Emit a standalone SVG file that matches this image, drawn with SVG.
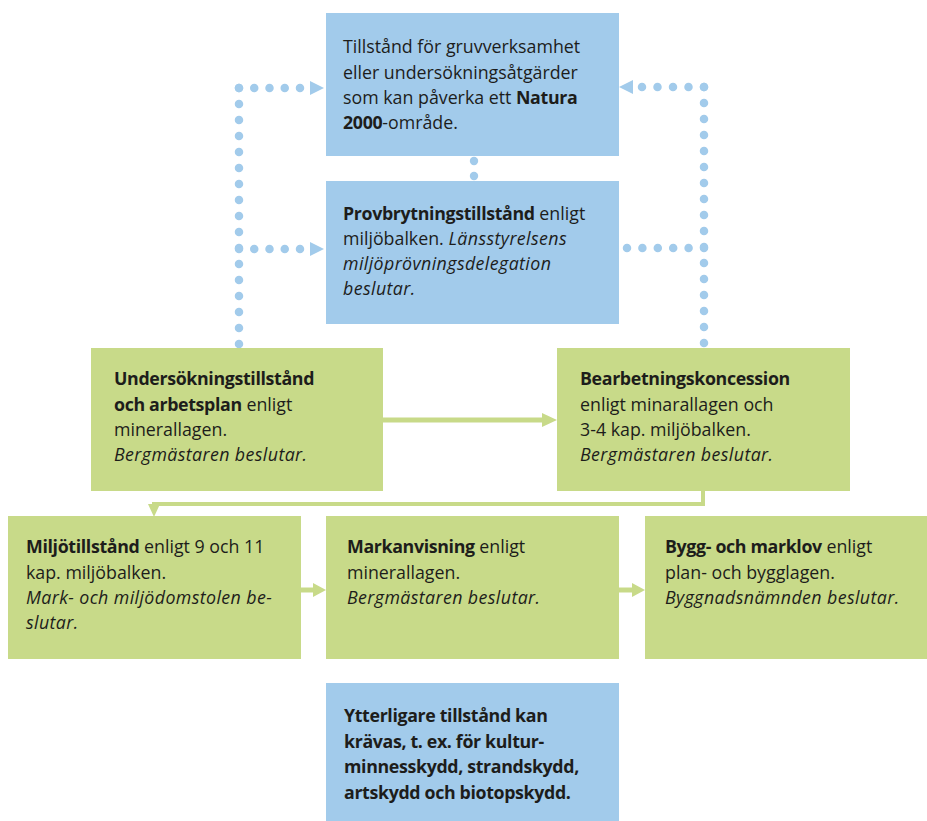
<svg xmlns="http://www.w3.org/2000/svg" width="927" height="821" viewBox="0 0 927 821">
  <style>
    .blue { fill: #a2cbeb; }
    .green { fill: #c8da89; }
    text { font-family: "Open Sans", "Liberation Sans", sans-serif; font-size: 17.8px; fill: #1d1d1b; }
    .b { font-weight: 700; letter-spacing: -0.35px; }
    .i { font-style: italic; letter-spacing: 0.4px; }
    .dots { fill: none; stroke: #a2cbeb; stroke-width: 8.5; stroke-linecap: round; }
    .dh { stroke-dasharray: 0 15.25; }
    .dv { stroke-dasharray: 0 16; }
    .dot { fill: #a2cbeb; }
    .arrow-b { fill: #a2cbeb; }
    .flow { fill: none; stroke: #c8da89; stroke-width: 5; }
    .arrow-g { fill: #c8da89; }
  </style>

  <g id="connectors">
    <!-- dotted links from the left column to the blue boxes -->
    <line class="dots dv" x1="239" y1="88" x2="239" y2="344.5"/>
    <line class="dots dh" x1="239" y1="88" x2="300.5" y2="88"/>
    <polygon class="arrow-b" points="310,81 324,88 310,95"/>
    <line class="dots dh" x1="239" y1="249" x2="300.5" y2="249"/>
    <polygon class="arrow-b" points="310,242 324,249 310,256"/>

    <!-- dotted links from the right column to the blue boxes -->
    <line class="dots dv" x1="704" y1="87" x2="704" y2="343.5"/>
    <line class="dots" style="stroke-dasharray:0 15.5" x1="642" y1="87" x2="704.5" y2="87"/>
    <polygon class="arrow-b" points="633,80 619,87 633,94"/>
    <line class="dots" style="stroke-dasharray:0 15.4" x1="627" y1="248" x2="704.5" y2="248"/>

    <!-- dots between the two blue boxes -->
    <circle class="dot" cx="474" cy="161" r="4.2"/>
    <circle class="dot" cx="474" cy="176" r="4.2"/>

    <!-- green flow arrows -->
    <line class="flow" x1="383" y1="420" x2="543" y2="420"/>
    <polygon class="arrow-g" points="542,413 557,420 542,427"/>

    <path class="flow" style="stroke-width:4" d="M703,491 V504 H154 V506"/>
    <polygon class="arrow-g" points="148,504 160,504 154,517"/>

    <line class="flow" x1="300" y1="590" x2="314" y2="590"/>
    <polygon class="arrow-g" points="313,583 326,590 313,597"/>
    <line class="flow" x1="618" y1="590" x2="633" y2="590"/>
    <polygon class="arrow-g" points="632,583 645,590 632,597"/>
  </g>

  <g id="natura2000">
    <rect class="blue" x="326" y="13" width="293" height="143"/>
    <text x="343" y="53">Tillstånd för gruvverksamhet</text>
    <text x="343" y="79">eller undersökningsåtgärder</text>
    <text x="343" y="104">som kan påverka ett <tspan class="b">Natura</tspan></text>
    <text x="343" y="129"><tspan class="b">2000</tspan>-område.</text>
  </g>

  <g id="provbrytning">
    <rect class="blue" x="326" y="181" width="293" height="143"/>
    <text x="343" y="220"><tspan class="b">Provbrytningstillstånd</tspan> enligt</text>
    <text x="343" y="245">miljöbalken. <tspan class="i">Länsstyrelsens</tspan></text>
    <text x="343" y="270" class="i">miljöprövningsdelegation</text>
    <text x="343" y="295" class="i">beslutar.</text>
  </g>

  <g id="undersokning">
    <rect class="green" x="91" y="348" width="292" height="143"/>
    <text x="114" y="385" class="b">Undersökningstillstånd</text>
    <text x="114" y="411"><tspan class="b">och arbetsplan</tspan> enligt</text>
    <text x="114" y="436">minerallagen.</text>
    <text x="114" y="461" class="i">Bergmästaren beslutar.</text>
  </g>

  <g id="bearbetning">
    <rect class="green" x="557" y="348" width="293" height="143"/>
    <text x="580" y="385" class="b">Bearbetningskoncession</text>
    <text x="580" y="411">enligt minarallagen och</text>
    <text x="580" y="436">3-4 kap. miljöbalken.</text>
    <text x="580" y="461" class="i">Bergmästaren beslutar.</text>
  </g>

  <g id="miljotillstand">
    <rect class="green" x="8" y="516" width="293" height="143"/>
    <text x="26" y="553"><tspan class="b">Miljötillstånd</tspan> enligt 9 och 11</text>
    <text x="26" y="579">kap. miljöbalken.</text>
    <text x="26" y="604" class="i">Mark- och miljödomstolen be-</text>
    <text x="26" y="629" class="i">slutar.</text>
  </g>

  <g id="markanvisning">
    <rect class="green" x="326" y="516" width="293" height="143"/>
    <text x="347" y="553"><tspan class="b">Markanvisning</tspan> enligt</text>
    <text x="347" y="579">minerallagen.</text>
    <text x="347" y="604" class="i">Bergmästaren beslutar.</text>
  </g>

  <g id="bygglov">
    <rect class="green" x="645" y="516" width="282" height="143"/>
    <text x="665" y="553"><tspan class="b">Bygg- och marklov</tspan> enligt</text>
    <text x="665" y="579">plan- och bygglagen.</text>
    <text x="665" y="604" class="i">Byggnadsnämnden beslutar.</text>
  </g>

  <g id="ytterligare">
    <rect class="blue" x="326" y="683" width="293" height="138"/>
    <text x="344" y="722" class="b">Ytterligare tillstånd kan</text>
    <text x="344" y="748" class="b">krävas, t. ex. för kultur-</text>
    <text x="344" y="773" class="b">minnesskydd, strandskydd,</text>
    <text x="344" y="799" class="b">artskydd och biotopskydd.</text>
  </g>
</svg>
